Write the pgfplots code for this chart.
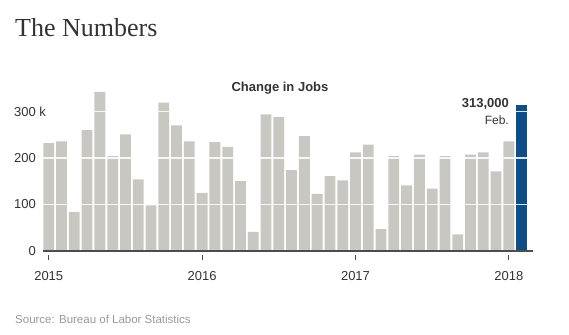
\documentclass[border=0pt]{standalone}
\usepackage{fontspec}
\setmainfont{Liberation Sans}
\newfontfamily\titlefont{Liberation Serif}
\usepackage{pgfplots}
\pgfplotsset{compat=1.18}
\definecolor{barg}{HTML}{C8C7C2}
\definecolor{barb}{HTML}{0F4E84}
\definecolor{txt}{HTML}{333333}
\definecolor{src}{HTML}{999999}
\definecolor{base}{HTML}{4D4D4D}
\begin{document}
\begin{tikzpicture}[x=1pt,y=1pt]
\path[use as bounding box] (0,0) rectangle (569,334);
\node[anchor=base west, inner sep=0pt, text=txt, font=\titlefont\fontsize{26}{30}\selectfont] at (15,297) {The Numbers};
\node[anchor=center, inner sep=0pt, text=txt, font=\bfseries\fontsize{13}{15}\selectfont] at (280,246) {Change in Jobs};
\node[anchor=east, inner sep=0pt, text=txt, font=\bfseries\fontsize{13}{15}\selectfont] at (509,230) {313,000};
\node[anchor=east, inner sep=0pt, text=txt, font=\fontsize{12}{14}\selectfont] at (509,214) {Feb.};
\node[anchor=base west, inner sep=0pt, text=src, font=\fontsize{11.5}{13}\selectfont] at (15,11) {Source: Bureau of Labor Statistics};
\begin{axis}[
  at={(43pt,83pt)}, anchor=south west,
  scale only axis, width=490pt, height=162.75pt,
  xmin=-0.45, xmax=37.89, ymin=0, ymax=350,
  axis x line*=bottom, axis y line*=left,
  x axis line style={draw=base, line width=1.6pt, -},
  y axis line style={draw=none},
  xtick={0,12,24,36}, xticklabels={2015,2016,2017,2018},
  ytick={0,100,200,300}, yticklabels={0,100,200,{300\rlap{ k}}},
  tick align=outside, major tick length=5pt,
  xtick style={draw=base, line width=0.9pt, yshift=-4pt},
  ytick style={draw=none},
  ticklabel style={font=\fontsize{13}{15}\selectfont, text=txt},
  /pgf/number format/assume math mode=true,
  xticklabel style={yshift=-12pt},
  yticklabel style={anchor=east, inner sep=0pt, xshift=-2pt},
  ymajorgrids, grid style={white, line width=1.6pt, opacity=0.85},
  axis on top,
  ybar, bar width=10.8pt, bar shift=0pt,
]
\addplot[fill=barg, draw=none] coordinates {
(0,232) (1,236) (2,84) (3,260) (4,342) (5,204) (6,251) (7,154) (8,98) (9,319)
(10,270) (11,236) (12,125) (13,234) (14,224) (15,150) (16,41) (17,294) (18,288) (19,174)
(20,247) (21,123) (22,161) (23,152) (24,212) (25,229) (26,47) (27,204) (28,141) (29,207)
(30,134) (31,204) (32,36) (33,207) (34,212) (35,171) (36,236)
};
\addplot[fill=barb, draw=none] coordinates {(37,313)};
\end{axis}
\end{tikzpicture}
\end{document}
